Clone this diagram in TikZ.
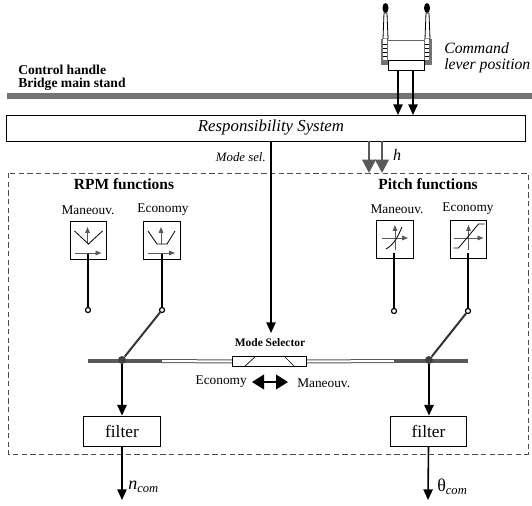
\documentclass[tikz,border=0pt]{standalone}
\usepackage{fontspec}
\setmainfont{Liberation Serif}
\usepackage{xcolor}
\usetikzlibrary{arrows.meta}
\definecolor{bargray}{gray}{0.45}
\definecolor{icongray}{gray}{0.35}
\tikzset{
	>={Triangle[length=8pt,width=7pt]},
	txt/.style={inner sep=0pt,font=\fontsize{10}{11}\selectfont},
	head/.style={inner sep=0pt,font=\fontsize{11.6}{12}\selectfont\bfseries},
	small/.style={inner sep=0pt,font=\fontsize{8.6}{9}\selectfont\bfseries},
	box/.style={draw,line width=.6pt,fill=white,inner sep=0pt},
	iconbox/.style={box,minimum width=27.5pt,minimum height=28.5pt},
	filterbox/.style={box,minimum width=57.5pt,minimum height=22.5pt,font=\fontsize{13}{14}\selectfont},
	stem/.style={line width=1.7pt},
	pin/.style={circle,draw,line width=.9pt,fill=white,inner sep=0pt,minimum size=3.8pt},
	joint/.style={circle,fill=black!75,inner sep=0pt,minimum size=6pt},
	swing/.style={line width=1.5pt,draw=black!80},
	axis/.style={draw=icongray,line width=.7pt,-{Triangle[length=4.5pt,width=3.5pt]}},
	curve/.style={line width=.6pt},
}
\begin{document}
\begin{tikzpicture}[x=.75pt,y=-.75pt]
	\useasboundingbox (0,0) rectangle (532,506);
	% control handle
	\fill[bargray] (7,93) rectangle (532,99);
	\node[txt,font=\fontsize{10.2}{11}\selectfont\bfseries,anchor=west] (handle) at (18,70) {Control handle};
	\node[txt,font=\fontsize{10.2}{11}\selectfont\bfseries,anchor=west] (stand) at (18,84) {Bridge main stand};
	\node[txt,font=\fontsize{11.8}{12}\selectfont\itshape,anchor=west] (cmd) at (444,48) {Command};
	\node[txt,font=\fontsize{11.8}{12}\selectfont\itshape,anchor=west] (pos) at (444,66) {lever position};
	\fill[bargray] (381,39) rectangle (388,65);
	\fill[bargray] (424,39) rectangle (432,65);
	\draw[line width=.6pt,fill=white] (384,13) -- (383,39) -- (388,39) -- (387,13) -- cycle;
	\draw[line width=.6pt,fill=white] (426,13) -- (425,39) -- (430,39) -- (429,13) -- cycle;
	\fill[white] (383,39) rectangle (387,60);
	\fill[white] (425,39) rectangle (429,60);
	\foreach \y in {44,48,52,56} {
		\draw[line width=.4pt] (383,\y) -- (387,\y);
		\draw[line width=.4pt] (425,\y) -- (429,\y);
	}
	\fill (385.5,8) ellipse (3 and 5);
	\fill (427,8) ellipse (3 and 5);
	\draw[draw=black!60,line width=.6pt] (388,40) -- (424,40);
	\draw[line width=.6pt,fill=white] (388,60) rectangle (424,70);
	\coordinate (leverA) at (398,70);
	\coordinate (leverB) at (413,70);
	%
	\node[box,minimum width=389pt,minimum height=19.5pt] (sys) at (266,128) {};
	\node[txt,font=\fontsize{12.6}{13}\selectfont\itshape] (syst) at (271,127) {Responsibility System};
	\coordinate (sysA) at (398,115);
	\coordinate (sysB) at (413,115);
	\coordinate (sysMode) at (271,141);
	\coordinate (sysH) at (369,141);
	\coordinate (sysH') at (382,141);
	\coordinate (hA) at (369,173);
	\coordinate (hB) at (382,173);
	\coordinate (modeEnd) at (271,333);
	\node[txt,font=\fontsize{9.6}{10}\selectfont\itshape,anchor=east] (modesel) at (266,157) {Mode sel.};
	\node[txt,font=\fontsize{12}{13}\selectfont\itshape] (h) at (397,155) {h};
	% dashed frame
	\draw[dashed,line width=.4pt,dash pattern=on 4pt off 2.5pt,draw=black!70] (8,173) rectangle (528,454);
	\node[head] (rpm) at (124,184) {RPM functions};
	\node[head] (pitch) at (428,184) {Pitch functions};
	% function boxes
	\node[iconbox] (rpmM) at (88.5,240) {};
	\node[iconbox] (rpmE) at (162,240) {};
	\node[iconbox] (pitchM) at (395,239) {};
	\node[iconbox] (pitchE) at (468.5,239) {};
	\node[txt] (rpmMt) at (88,210) {Maneouv.};
	\node[txt] (rpmEt) at (163,210) {Economy};
	\node[txt] (pitchMt) at (397,209) {Maneouv.};
	\node[txt] (pitchEt) at (468,209) {Economy};
	\begin{scope}[shift={(88.5,240)}]
		\draw[axis] (-1,4) -- (-1,-13);
		\draw[axis] (-14,13) -- (13,13);
		\draw[curve] (-14,-9) -- (0,4) -- (14,-9);
	\end{scope}
	\begin{scope}[shift={(162,240)}]
		\draw[axis] (-1,4) -- (-1,-13);
		\draw[axis] (-14,13) -- (13,13);
		\draw[curve] (-14,-9) -- (-5,4) -- (5,4) -- (13,-9);
	\end{scope}
	\begin{scope}[shift={(395,239)}]
		\draw[axis] (0,11) -- (0,-14);
		\draw[axis] (-13,-1) -- (13,-1);
		\draw[curve] (-9,10) .. controls (-2,6) and (2,0) .. (7,-12);
	\end{scope}
	\begin{scope}[shift={(468.5,239)}]
		\draw[axis] (0,11) -- (0,-14);
		\draw[axis] (-15,-1) -- (15,-1);
		\draw[curve] (-15,9) -- (-10,9) -- (10,-15) -- (16,-15);
	\end{scope}
	% switches
	\node[pin] (pinA) at (88,310) {};
	\node[pin] (pinB) at (162,310) {};
	\node[pin] (pinC) at (394,311) {};
	\node[pin] (pinD) at (468,311) {};
	\coordinate (rpmMs) at (88,254);
	\coordinate (rpmEs) at (162,254);
	\coordinate (pitchMs) at (394,253);
	\coordinate (pitchEs) at (468,253);
	% selector bar
	\coordinate (barA) at (88,361);
	\coordinate (barB) at (162,361);
	\coordinate (barC) at (394,361);
	\coordinate (barD) at (468,361);
	\node[box,minimum width=56pt,minimum height=8pt] (sel) at (269.5,361.5) {};
	\node[small] (selt) at (270,343) {Mode Selector};
	\draw[line width=.5pt] (244,367) -- (256,356);
	\draw[line width=.5pt] (284,356) -- (295,367);
	\draw[line width=3pt,draw=black!65] (barB) -- (sel.west);
	\draw[line width=1.5pt,draw=white] (barB) -- (sel.west);
	\draw[line width=3pt,draw=black!65] (sel.east) -- (barC);
	\draw[line width=1.5pt,draw=white] (sel.east) -- (barC);
	\draw[line width=3.5pt,draw=black!65] (barA) -- (barB);
	\draw[line width=3.5pt,draw=black!65] (barC) -- (barD);
	\node[joint] (jointL) at (122,360) {};
	\node[joint] (jointR) at (429,360) {};
	\node[txt,anchor=east] (eco) at (247,382) {Economy};
	\node[txt,anchor=west] (man) at (297,383) {Maneouv.};
	\coordinate (dblA) at (252,382);
	\coordinate (dblB) at (288,382);
	% filters
	\node[filterbox] (filterL) at (122,431) {filter};
	\node[filterbox] (filterR) at (428.5,431) {filter};
	\coordinate (outL) at (122,500);
	\coordinate (outR) at (428,500);
	\node[txt,font=\fontsize{13.5}{14}\selectfont,anchor=west] (nc) at (128,487) {\textit{n}\textsubscript{\textit{com}}};
	\node[txt,font=\fontsize{13.5}{14}\selectfont,anchor=west] (tc) at (437,487) {θ\textsubscript{\textit{com}}};
	%
	\path[->,line width=1.2pt]
	(leverA) edge (sysA)
	(leverB) edge (sysB)
	(sysMode) edge (modeEnd)
	(jointL) edge (filterL.north)
	(jointR) edge (filterR.north -| jointR)
	(filterL.south) edge (outL)
	(filterR.south) edge (outR)
	(dblA) edge[{Triangle[length=9pt,width=11pt]}-{Triangle[length=9pt,width=11pt]},line width=1.3pt] (dblB);
	\path[line width=1.9pt,-{Triangle[length=10pt,width=10pt]},every edge/.append style={draw=black!65}]
	(sysH) edge (hA)
	(sysH') edge (hB);
	\path[stem]
	(rpmMs) edge (pinA)
	(rpmEs) edge (pinB)
	(pitchMs) edge (pinC)
	(pitchEs) edge (pinD);
	\path[swing]
	(jointL) edge (pinB)
	(jointR) edge (pinD);
\end{tikzpicture}
\end{document}
